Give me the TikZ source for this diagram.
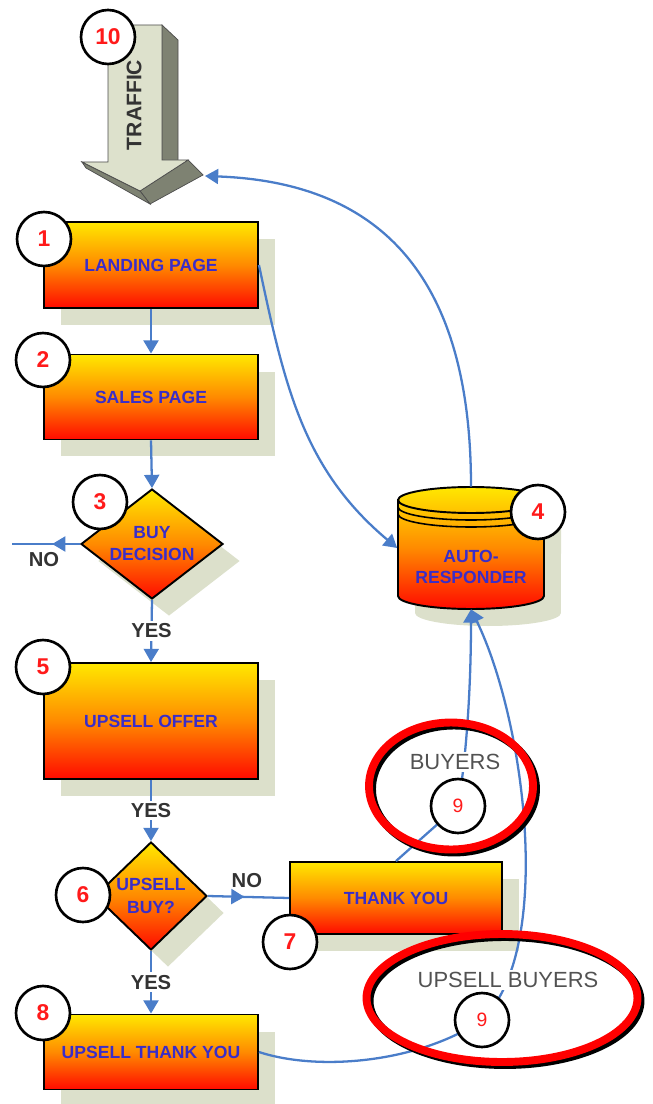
\documentclass[tikz,border=0pt]{standalone}
\usepackage{fontspec}
\setmainfont{Liberation Sans}
\usepackage{tikz}
\definecolor{boxtop}{HTML}{FFE800}
\definecolor{boxmid}{HTML}{FF8A00}
\definecolor{boxbottom}{HTML}{FF0A00}
\definecolor{boxtext}{HTML}{3A2DC8}
\definecolor{shadowgrey}{HTML}{DCE0CB}
\definecolor{linkblue}{HTML}{4A7DC9}
\definecolor{arrowlight}{HTML}{DDE1CC}
\definecolor{arrowdark}{HTML}{7E8272}
\definecolor{numred}{HTML}{FF1A1A}
\definecolor{labelgrey}{HTML}{333333}
\usetikzlibrary{arrows.meta}
\usetikzlibrary{shapes.geometric}
\usetikzlibrary{shadows}
\usetikzlibrary{decorations.markings}
\pgfdeclarelayer{front}
\pgfsetlayers{main,front}
\tikzset{%
  gradfill/.style={draw=black, line width=1.1pt,
    top color=boxtop, bottom color=boxbottom, middle color=boxmid,
    drop shadow={shadow xshift=0.34cm, shadow yshift=-0.34cm, fill=shadowgrey, opacity=1}},
  stepbox/.style={gradfill, rectangle, inner sep=0, align=center,
    minimum width=\boxwidth, text=boxtext, font=\fontsize{10}{12}\selectfont\bfseries},
  decision/.style={gradfill, diamond, inner sep=0, align=center,
    text=boxtext, font=\fontsize{10}{12.5}\selectfont\bfseries},
  numcircle/.style={circle, draw=black, line width=1.5pt, fill=white, inner sep=0,
    minimum size=1.08cm, text=numred, font=\fontsize{13}{13}\selectfont\bfseries},
  numnine/.style={numcircle, font=\fontsize{11}{11}\selectfont},
  flow/.style={draw=linkblue, line width=1.3pt, -{Triangle[length=7.5pt,width=8.5pt]}},
  midarrow/.style={decoration={markings,
    mark=at position #1 with {\arrow{Triangle[length=7.5pt,width=8.5pt]}}}, postaction={decorate}},
  yeslabel/.style={fill=white, inner sep=1.5pt, text=labelgrey, font=\fontsize{11.5}{12}\selectfont\bfseries},
  buyerlabel/.style={fill=white, inner sep=1pt, text=labelgrey!85, font=\fontsize{12.5}{13}\selectfont},
  highlight/.style={line width=4.5pt},
  rim/.style={x radius=1.46cm, y radius=0.26cm}
}
\newcommand{\boxwidth}{4.28cm}
\newcommand{\drumpath}{(398,500) -- (398,596) arc[start angle=180, end angle=360, rim] -- (544,500) arc[start angle=0, end angle=180, rim] -- cycle}

\begin{document}
\begin{tikzpicture}[x=0.02cm, y=-0.02cm]
\useasboundingbox (0,0) rectangle (652,1104);

% traffic arrow
\filldraw[fill=arrowdark, draw=black!70, line width=0.4pt] (162,25) -- (178,40) -- (178,162) -- (162,160) -- cycle;
\filldraw[fill=arrowdark, draw=black!70, line width=0.4pt] (188,160) -- (203,175) -- (150,204) -- (140,191) -- cycle;
\filldraw[fill=arrowdark, draw=black!70, line width=0.4pt] (82,162) -- (140,191) -- (150,204) -- (86,168) -- cycle;
\filldraw[fill=arrowlight, draw=black!70, line width=0.4pt] (108,25) -- (162,25) -- (162,160) -- (188,160) -- (140,191) -- (82,162) -- (108,162) -- cycle;
\node at (134,105) [rotate=90, text=labelgrey, font=\fontsize{12}{12}\selectfont\bfseries] (traffic) {TRAFFIC};
\coordinate (traffic_tip) at (205,176);

% boxes
\node at (151,265) [stepbox, minimum height=1.72cm] (landing_page) {LANDING PAGE};
\node at (151,397) [stepbox, minimum height=1.70cm] (sales_page) {SALES PAGE};
\node at (152,544) [decision, aspect=1.3, minimum width=2.84cm, minimum height=2.2cm] (buy_decision) {BUY\\DECISION};
\node at (151,721) [stepbox, minimum height=2.32cm] (upsell_offer) {UPSELL OFFER};
\node at (151,896) [decision, aspect=1.04, minimum width=2.24cm, minimum height=2.16cm, font=\fontsize{10}{13}\selectfont\bfseries] (upsell_buy) {UPSELL\\BUY?};
\node at (396,898) [stepbox, minimum width=4.24cm, minimum height=1.44cm] (thank_you) {THANK YOU};
\node at (151,1052) [stepbox, minimum height=1.5cm] (upsell_thanks) {UPSELL THANK YOU};

% autoresponder drum
\begin{scope}[shift={(17,17)}]
\fill[shadowgrey] \drumpath;
\end{scope}
\shade[top color=boxtop, bottom color=boxbottom, middle color=boxmid, draw=black, line width=1.1pt] \drumpath;
\draw[line width=1.1pt] (398,500) arc[start angle=180, end angle=360, rim];
\draw[line width=0.9pt] (398,507) arc[start angle=180, end angle=360, rim];
\draw[line width=0.9pt] (398,514) arc[start angle=180, end angle=360, rim];
\node at (471,548) [inner sep=0, minimum width=2.94cm, minimum height=2.44cm,
  label={[yshift=-0.38cm, align=center, text=boxtext, font=\fontsize{10}{12}\selectfont\bfseries]center:AUTO-\\RESPONDER}] (auto_responder) {};

\coordinate (no_end) at (12,544);

\begin{pgfonlayer}{front}
% buyers highlights
\draw[highlight, black] (454,789) ellipse [x radius=1.64cm, y radius=1.27cm];
\draw[highlight, red] (451,786) ellipse [x radius=1.64cm, y radius=1.27cm];
\draw[highlight, black] (505,1001) ellipse [x radius=2.71cm, y radius=1.28cm];
\draw[highlight, red] (502,998) ellipse [x radius=2.71cm, y radius=1.28cm];
\node at (455,762) [buyerlabel] (buyers_text) {BUYERS};
\node at (508,980) [buyerlabel] (upsell_buyers_text) {UPSELL BUYERS};

\node (num_10) at (108,37) [numcircle] {10};
\node (num_1) at (44,239) [numcircle] {1};
\node (num_2) at (43,360) [numcircle] {2};
\node (num_3) at (100,502) [numcircle] {3};
\node (num_4) at (538,512) [numcircle] {4};
\node (num_5) at (43,667) [numcircle] {5};
\node (num_6) at (83,895) [numcircle] {6};
\node (num_7) at (290,942) [numcircle] {7};
\node (num_8) at (43,1013) [numcircle] {8};
\node (num_9a) at (458,806) [numnine] {9};
\node (num_9b) at (482,1020) [numnine] {9};
\end{pgfonlayer}

% connectors
\draw[flow] (landing_page.south) -- (sales_page.north);
\draw[flow] (sales_page.south) -- (buy_decision.north);
\draw[draw=linkblue, line width=1.3pt, midarrow=0.41] (buy_decision.west) -- node[pos=0.53, below=0.1cm, yeslabel, fill=none] (no_left) {NO} (no_end);
\draw[flow] (buy_decision.south) -- node[yeslabel] (yes_one) {YES} (upsell_offer.north);
\draw[flow] (upsell_offer.south) -- node[yeslabel] (yes_two) {YES} (upsell_buy.north);
\draw[draw=linkblue, line width=1.3pt, midarrow=0.45] (upsell_buy.east) -- node[pos=0.48, above=0.1cm, yeslabel, fill=none] (no_right) {NO} (thank_you.west);
\draw[flow] (upsell_buy.south) -- node[yeslabel] (yes_three) {YES} (upsell_thanks.north);
\draw[flow] (landing_page.east) to[out=-78, in=140] (auto_responder.west);
\draw[flow] (auto_responder.north) .. controls (471,300) and (400,183) .. (traffic_tip);
\draw[flow] (thank_you.north) -- (num_9a.center) .. controls (466,760) and (471,690) .. (auto_responder.south);
\draw[flow] (upsell_thanks.east) .. controls (320,1072) and (420,1062) .. (num_9b.center) .. controls (555,950) and (525,720) .. (auto_responder.south);

\end{tikzpicture}
\end{document}
